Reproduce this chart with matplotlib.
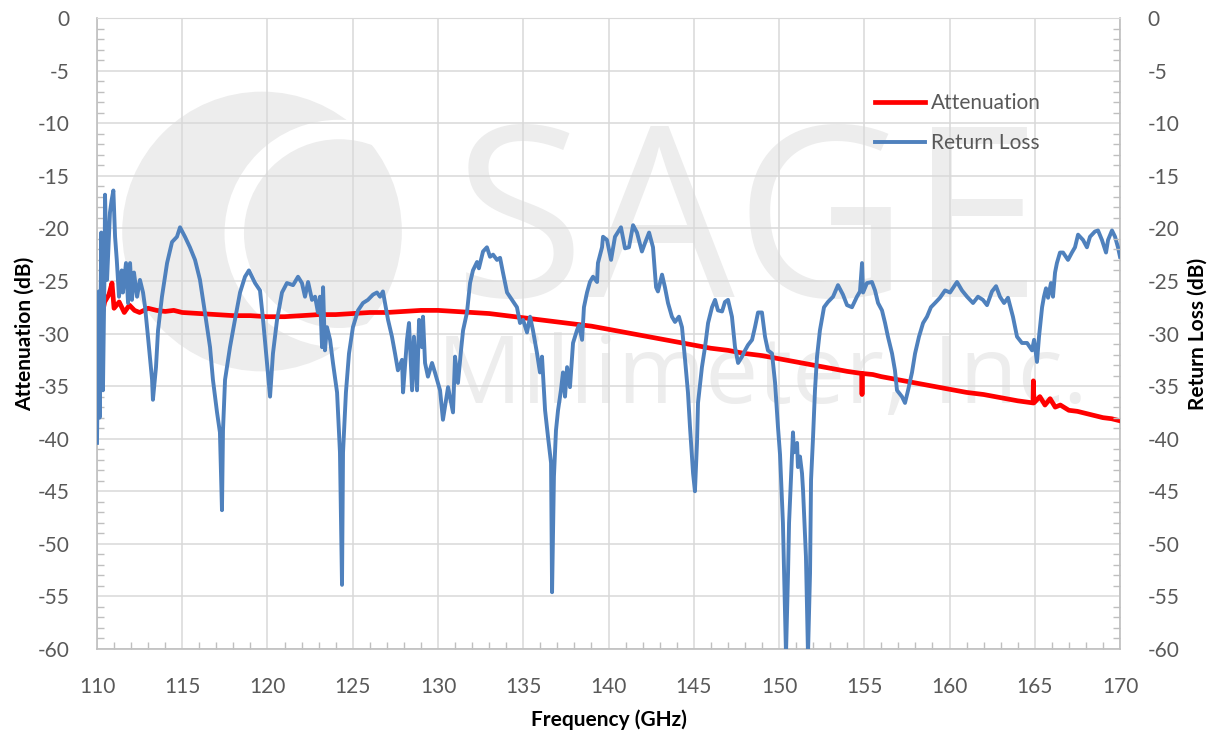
import matplotlib
matplotlib.use("Agg")
import matplotlib.pyplot as plt
from matplotlib.patches import Ellipse
from matplotlib.ticker import MultipleLocator

# ---- data (GHz, dB) ----
rl_freq = [110.00, 110.10, 110.15, 110.25, 110.35, 110.45, 110.47, 110.59, 110.76, 110.86,
           110.96, 111.06, 111.16, 111.29, 111.45, 111.52, 111.70, 111.82, 111.94, 112.05,
           112.17, 112.35, 112.52, 112.70, 112.82, 112.99, 113.23, 113.28, 113.46, 113.58,
           113.81, 114.11, 114.40, 114.69, 114.87, 115.16, 115.45, 115.75, 116.04, 116.33,
           116.63, 116.80, 117.04, 117.21, 117.33, 117.39, 117.51, 117.80, 118.09, 118.39,
           118.68, 118.91, 119.27, 119.56, 119.74, 119.97, 120.15, 120.32, 120.56, 120.85,
           121.14, 121.50, 121.79, 122.02, 122.20, 122.38, 122.61, 122.79, 122.96, 123.08,
           123.20, 123.26, 123.37, 123.49, 123.67, 123.84, 124.08, 124.25, 124.37, 124.43,
           124.60, 124.78, 125.01, 125.31, 125.60, 125.89, 126.19, 126.42, 126.60, 126.77,
           126.89, 127.07, 127.30, 127.48, 127.65, 127.89, 127.95, 128.18, 128.30, 128.48,
           128.59, 128.77, 128.89, 129.06, 129.12, 129.24, 129.41, 129.65, 129.82, 130.12,
           130.29, 130.59, 130.88, 131.00, 131.17, 131.35, 131.47, 131.70, 131.88, 132.05,
           132.29, 132.40, 132.64, 132.87, 133.05, 133.23, 133.46, 133.64, 133.81, 134.05,
           134.34, 134.63, 134.81, 134.99, 135.22, 135.40, 135.57, 135.81, 135.98, 136.10,
           136.28, 136.45, 136.63, 136.69, 136.80, 136.92, 137.04, 137.21, 137.33, 137.45,
           137.57, 137.74, 137.92, 138.15, 138.27, 138.45, 138.56, 138.74, 138.91, 139.09,
           139.33, 139.38, 139.62, 139.68, 139.91, 140.15, 140.38, 140.73, 140.97, 141.20,
           141.44, 141.67, 141.96, 142.14, 142.38, 142.61, 142.79, 142.90, 143.14, 143.31,
           143.49, 143.72, 143.90, 144.13, 144.31, 144.49, 144.66, 144.78, 144.96, 145.07,
           145.19, 145.25, 145.48, 145.66, 145.84, 146.07, 146.25, 146.42, 146.66, 146.83,
           147.01, 147.24, 147.42, 147.60, 147.83, 148.01, 148.18, 148.42, 148.59, 148.77,
           149.00, 149.18, 149.35, 149.59, 149.77, 149.94, 150.06, 150.23, 150.41, 150.53,
           150.59, 150.70, 150.82, 150.88, 151.06, 151.11, 151.23, 151.35, 151.41, 151.58,
           151.70, 151.82, 151.88, 151.99, 152.11, 152.23, 152.40, 152.64, 152.87, 153.17,
           153.46, 153.75, 153.99, 154.28, 154.57, 154.75, 154.87, 154.93, 155.16, 155.45,
           155.63, 155.81, 156.04, 156.22, 156.39, 156.63, 156.80, 156.92, 157.21, 157.39,
           157.57, 157.80, 157.98, 158.21, 158.45, 158.68, 158.91, 159.15, 159.44, 159.74,
           160.03, 160.44, 160.73, 161.03, 161.38, 161.67, 161.96, 162.20, 162.49, 162.73,
           162.96, 163.20, 163.43, 163.72, 163.96, 164.25, 164.55, 164.84, 164.96, 165.13,
           165.25, 165.43, 165.54, 165.66, 165.78, 165.95, 166.07, 166.19, 166.30, 166.48,
           166.66, 166.95, 167.18, 167.36, 167.54, 167.83, 168.06, 168.24, 168.53, 168.71,
           168.94, 169.18, 169.30, 169.53, 169.71, 169.88, 170.00]
rl_db = [-40.4, -26.0, -38.0, -20.4, -35.4, -23.0, -16.8, -24.9, -18.5, -17.3,
         -16.4, -20.8, -23.0, -26.5, -24.0, -26.1, -23.3, -27.1, -23.3, -26.8,
         -24.2, -26.5, -24.9, -26.1, -27.5, -30.3, -34.4, -36.3, -33.2, -29.7,
         -26.5, -23.3, -21.3, -20.8, -19.9, -20.8, -21.8, -23.0, -24.9, -28.0,
         -31.3, -34.4, -37.5, -39.4, -46.8, -39.2, -34.4, -31.3, -28.7, -26.1,
         -24.6, -24.0, -25.2, -25.9, -28.7, -32.8, -36.0, -31.9, -28.7, -26.1,
         -25.2, -25.4, -24.6, -25.2, -26.5, -25.1, -26.8, -26.5, -28.0, -26.5,
         -31.3, -25.6, -31.6, -29.4, -30.6, -32.8, -35.6, -41.3, -53.9, -41.3,
         -35.6, -31.9, -29.4, -27.8, -27.1, -26.8, -26.3, -26.1, -26.5, -26.0,
         -27.1, -28.7, -30.3, -31.9, -33.5, -32.5, -35.6, -30.6, -29.0, -35.4,
         -30.3, -35.4, -28.7, -31.3, -28.4, -32.8, -34.1, -32.8, -33.7, -35.4,
         -38.2, -35.1, -37.5, -32.2, -34.7, -31.6, -29.7, -28.0, -25.2, -24.0,
         -23.2, -23.8, -22.2, -21.8, -22.7, -22.5, -23.0, -22.8, -24.2, -26.1,
         -26.8, -27.5, -29.0, -28.7, -29.9, -28.4, -29.7, -31.9, -33.7, -32.2,
         -37.3, -39.8, -42.3, -54.6, -43.6, -39.2, -37.3, -35.4, -33.7, -36.0,
         -33.2, -35.1, -30.9, -29.7, -29.2, -30.6, -27.5, -26.1, -25.1, -24.6,
         -25.1, -23.3, -21.8, -20.8, -21.1, -23.0, -20.8, -19.9, -21.9, -21.8,
         -19.7, -20.4, -22.2, -21.4, -20.4, -21.8, -25.6, -26.0, -24.4, -25.6,
         -27.1, -28.4, -28.9, -28.4, -29.4, -32.5, -35.6, -38.9, -43.3, -45.0,
         -40.4, -36.6, -33.2, -31.3, -29.0, -27.5, -26.8, -27.8, -27.9, -27.0,
         -26.8, -28.4, -31.3, -32.8, -32.2, -31.6, -31.1, -30.6, -29.4, -28.0,
         -28.0, -30.3, -31.6, -31.9, -34.7, -38.9, -41.5, -48.0, -60.5, -52.8,
         -48.0, -43.9, -39.4, -41.3, -40.4, -42.7, -41.7, -43.3, -44.9, -51.2,
         -60.5, -52.8, -43.9, -40.1, -35.4, -32.2, -29.7, -27.5, -27.0, -26.5,
         -25.4, -26.3, -27.3, -27.5, -26.5, -26.0, -23.3, -26.1, -25.2, -25.1,
         -25.9, -27.1, -27.8, -29.0, -30.3, -31.9, -33.5, -35.4, -36.0, -36.6,
         -35.4, -33.7, -31.9, -30.3, -29.0, -28.4, -27.5, -27.1, -26.6, -25.9,
         -26.1, -25.1, -25.9, -26.5, -27.1, -26.5, -26.8, -27.3, -26.0, -25.5,
         -26.5, -27.1, -26.6, -28.4, -30.3, -30.9, -30.9, -31.6, -30.6, -32.7,
         -30.3, -27.5, -26.5, -25.7, -26.6, -25.2, -26.5, -24.2, -23.3, -22.3,
         -22.3, -23.0, -22.3, -21.8, -20.6, -21.1, -21.8, -20.8, -20.3, -20.2,
         -21.1, -22.3, -21.1, -20.2, -20.8, -21.8, -22.7]

att_freq = [110.00, 110.10, 110.20, 110.30, 110.45, 110.70, 110.88, 111.00, 111.30, 111.60,
            111.90, 112.20, 112.50, 113.00, 113.50, 114.00, 114.50, 115.00, 116.00, 117.00,
            118.00, 119.00, 120.00, 121.00, 122.00, 123.00, 124.00, 125.00, 126.00, 127.00,
            128.00, 129.00, 130.00, 131.00, 132.00, 133.00, 134.00, 135.00, 136.00, 137.00,
            138.00, 139.00, 140.00, 141.00, 142.00, 143.00, 144.00, 145.00, 146.00, 147.00,
            148.00, 149.00, 150.00, 151.00, 152.00, 153.00, 154.00, 154.85, 154.87, 154.89,
            155.50, 156.00, 157.00, 158.00, 159.00, 160.00, 161.00, 162.00, 163.00, 164.00,
            164.90, 164.92, 164.95, 165.30, 165.60, 165.90, 166.20, 166.50, 167.00, 167.50,
            168.00, 168.50, 169.00, 169.50, 170.00]
att_db = [-26.5, -28.4, -26.8, -28.2, -27.0, -26.3, -25.2, -27.6, -27.0, -28.0,
          -27.3, -27.8, -28.0, -27.6, -27.8, -27.9, -27.8, -28.0, -28.1, -28.2,
          -28.3, -28.3, -28.4, -28.4, -28.3, -28.2, -28.2, -28.1, -28.0, -28.0,
          -27.9, -27.8, -27.8, -27.9, -28.0, -28.1, -28.3, -28.5, -28.7, -28.9,
          -29.1, -29.3, -29.6, -29.9, -30.2, -30.5, -30.8, -31.1, -31.4, -31.6,
          -31.9, -32.1, -32.4, -32.7, -33.0, -33.3, -33.6, -33.8, -35.8, -33.8,
          -33.9, -34.1, -34.4, -34.7, -35.0, -35.3, -35.6, -35.8, -36.1, -36.4,
          -36.6, -34.5, -36.6, -36.0, -36.8, -36.2, -37.0, -36.8, -37.3, -37.4,
          -37.6, -37.8, -38.0, -38.1, -38.3]

x_ticks = list(range(110, 171, 5))
y_ticks = list(range(-60, 1, 5))

TICK_GREY = '#595959'
GRID_GREY = '#d9d9d9'
SPINE_GREY = '#bfbfbf'
WM_GREY = '#ededed'

plt.rcParams['font.family'] = ['Lato', 'DejaVu Sans']
plt.rcParams['axes.unicode_minus'] = False

fig = plt.figure(figsize=(12.17, 7.36), dpi=100)
ax = fig.add_axes([0.0797, 0.1182, 0.8406, 0.8573])
ax.set_xlim(110, 170)
ax.set_ylim(-60, 0)

# ---- faint company watermark behind everything ----
ax.add_patch(Ellipse((119.68, -20.3), 16.4, 26.6, facecolor=WM_GREY,
                     edgecolor='none', zorder=0.1))
ax.add_patch(Ellipse((124.2, -20.5), 12.3, 19.8, facecolor='none',
                     edgecolor='white', linewidth=14, zorder=0.15))
ax.text(148.2, -26.5, 'SAGE', fontsize=172, color=WM_GREY, family='Open Sans',
        ha='center', va='baseline', zorder=0.1)
ax.text(149.0, -36.6, 'Millimeter, Inc.', fontsize=68, color=WM_GREY, family='Open Sans',
        ha='center', va='baseline', zorder=0.1)

# ---- series ----
ax.plot(att_freq, att_db, color='#ff0000', lw=3.4, label='Attenuation', zorder=3)
ax.plot(rl_freq, rl_db, color='#4f81bd', lw=2.8, label='Return Loss', zorder=4)

# ---- grid / ticks ----
ax.set_xticks(x_ticks)
ax.set_yticks(y_ticks)
ax.xaxis.set_minor_locator(MultipleLocator(1))
ax.yaxis.set_minor_locator(MultipleLocator(1))
ax.grid(True, which='major', color=GRID_GREY, lw=1.1, zorder=0.5)
ax.set_axisbelow(True)
ax.tick_params(which='major', length=0, pad=20, labelsize=15, labelcolor=TICK_GREY)
ax.tick_params(which='minor', direction='in', length=5, width=1, color=SPINE_GREY)
ax.tick_params(axis='y', which='minor', right=False)
for side in ['left', 'bottom', 'right']:
    ax.spines[side].set_color(SPINE_GREY)
    ax.spines[side].set_linewidth(1.2)
ax.spines['top'].set_color(GRID_GREY)

ax2 = ax.twinx()
ax2.set_ylim(-60, 0)
ax2.set_yticks(y_ticks)
ax2.yaxis.set_minor_locator(MultipleLocator(1))
ax2.tick_params(which='major', length=0, pad=20, labelsize=15, labelcolor=TICK_GREY)
ax2.tick_params(which='minor', direction='in', length=5, width=1, color=SPINE_GREY)
for s in ax2.spines.values():
    s.set_visible(False)

ax.set_xlabel('Frequency (GHz)', fontsize=15, fontweight='bold', labelpad=9)
ax.set_ylabel('Attenuation (dB)', fontsize=15, fontweight='bold', labelpad=2)
ax2.set_ylabel('Return Loss (dB)', fontsize=15, fontweight='bold', labelpad=6)

leg = ax.legend(loc='upper left', bbox_to_anchor=(0.742, 0.911), frameon=False,
                fontsize=15, handlelength=2.4, labelspacing=0.98, handletextpad=0.3)
for t in leg.get_texts():
    t.set_color(TICK_GREY)

fig.savefig('out.png', dpi=100)
